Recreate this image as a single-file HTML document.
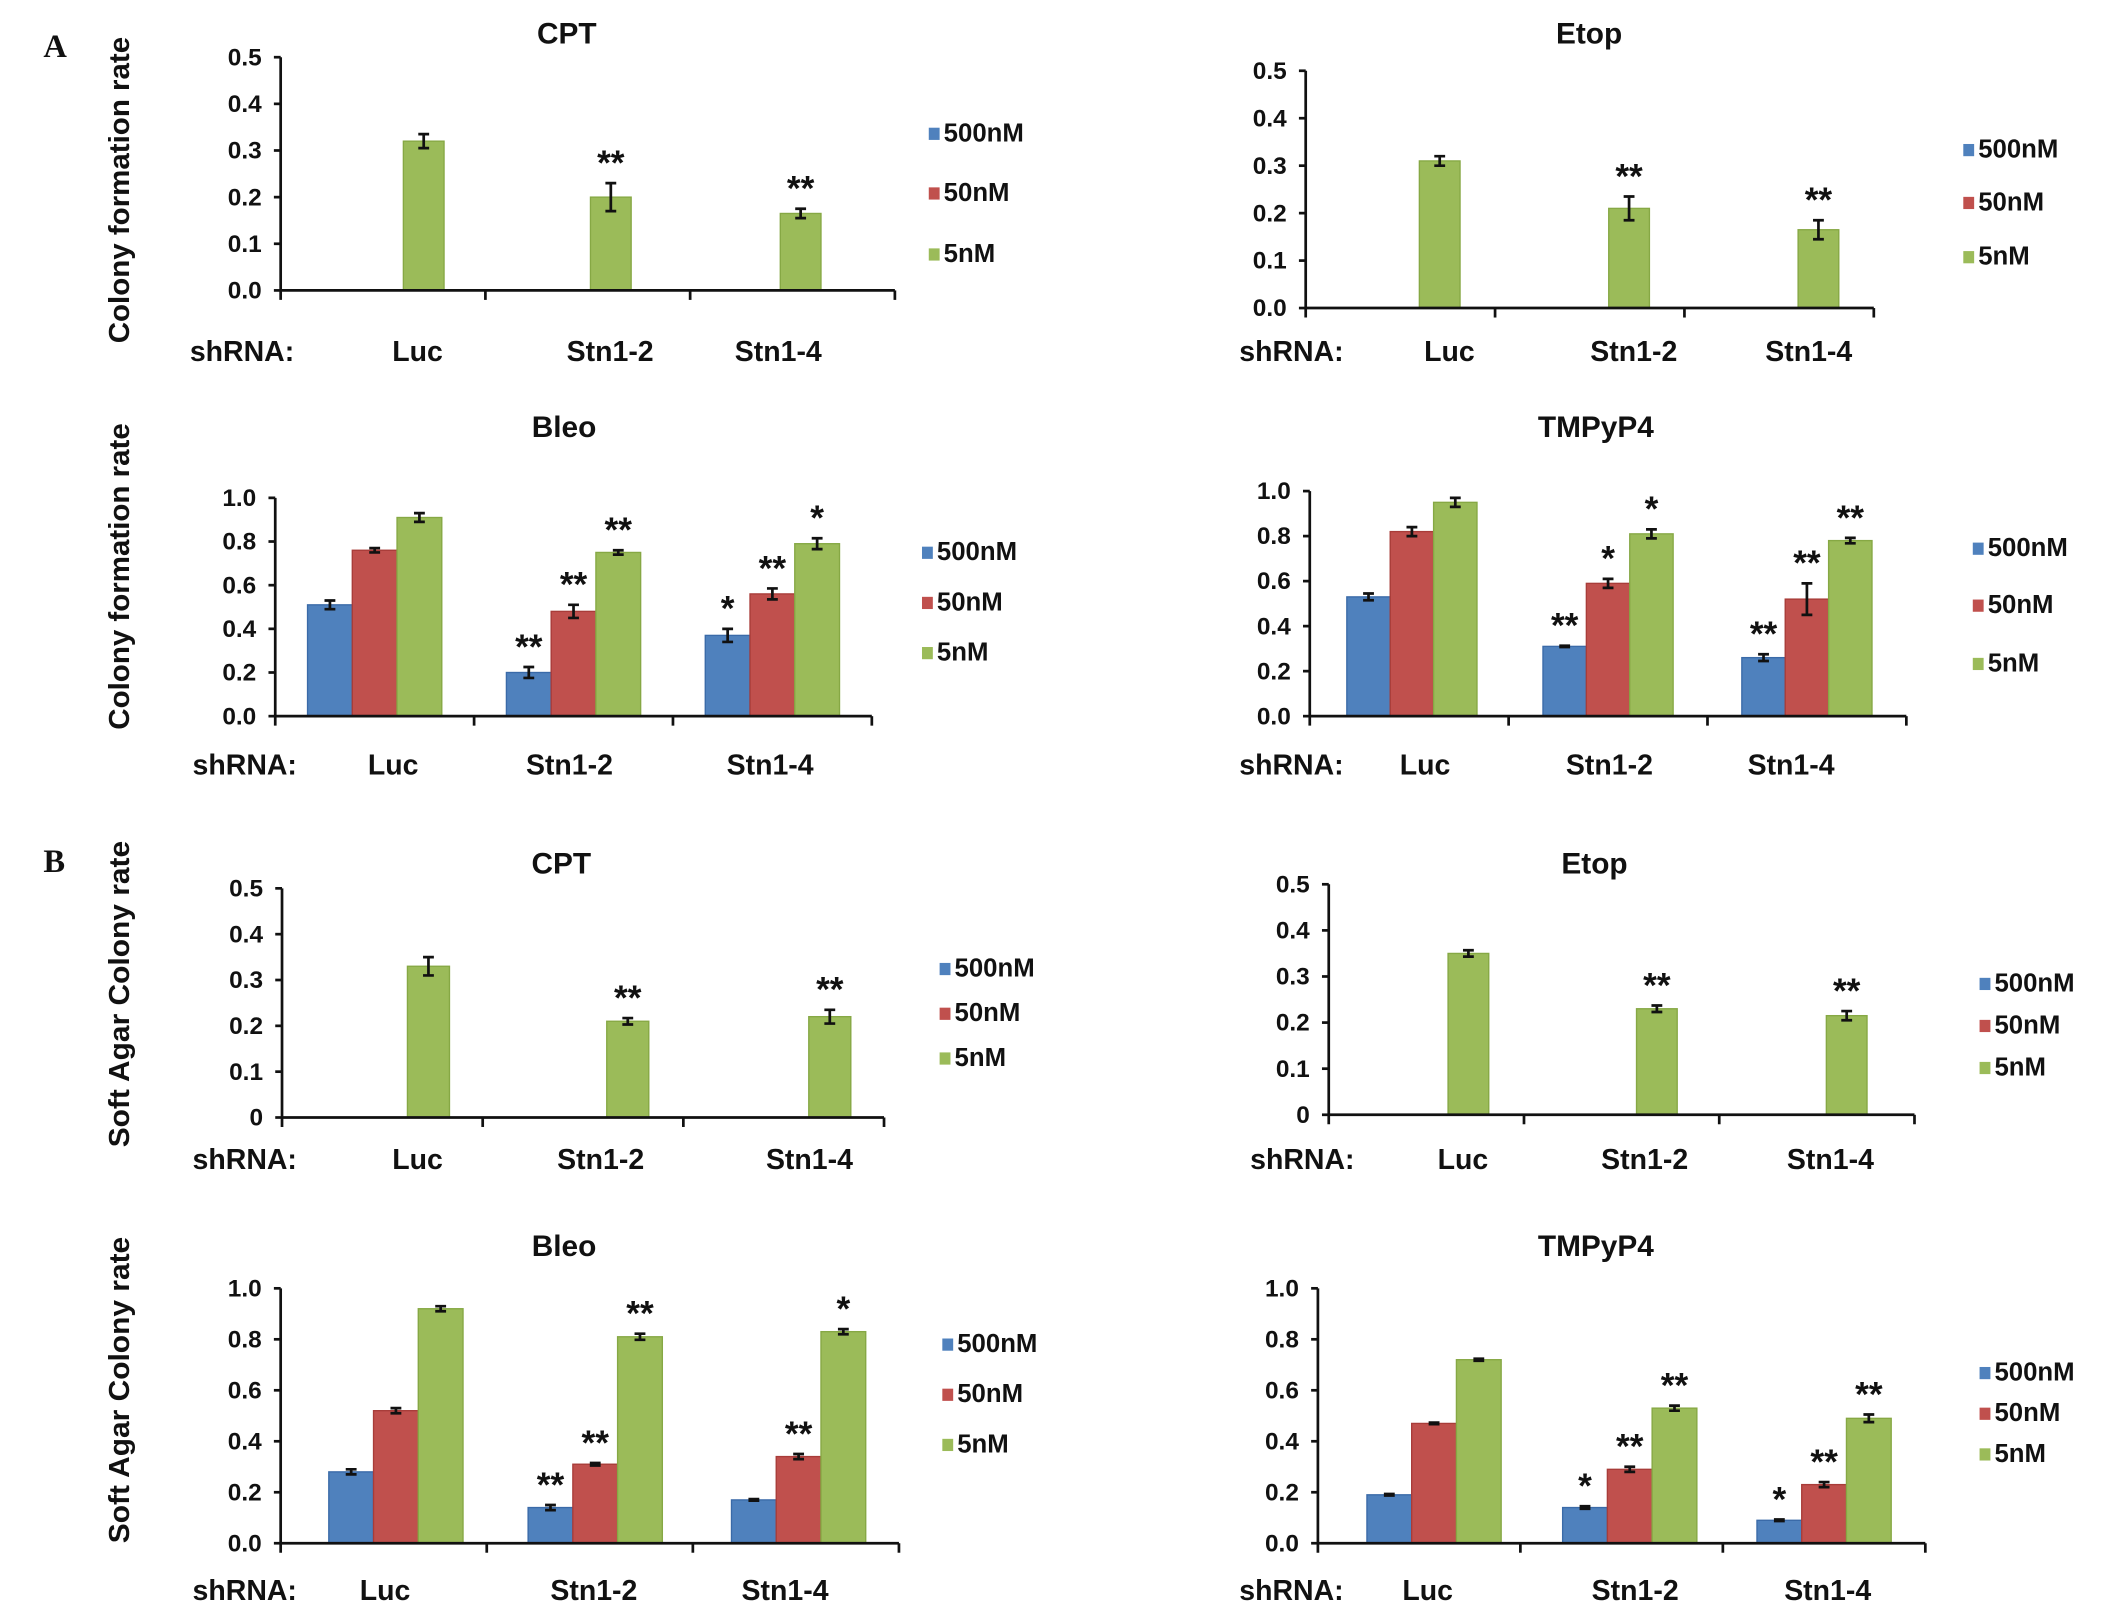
<!DOCTYPE html>
<html><head><meta charset="utf-8">
<style>
html,body{margin:0;padding:0;background:#fff;}
svg{display:block;}
text{font-family:"Liberation Sans",Arial,sans-serif;font-weight:bold;fill:#111;}
.panel-letter{font-family:"Liberation Serif",serif;font-size:24px;}
</style></head>
<body>
<svg id="fig" width="2126" height="1614" viewBox="0 0 1568 1190" xmlns="http://www.w3.org/2000/svg">
<text class="panel-letter" x="32" y="42">A</text>
<text class="panel-letter" x="32" y="643">B</text>
<text transform="translate(95,140) rotate(-90)" text-anchor="middle" font-size="21" textLength="226" lengthAdjust="spacingAndGlyphs">Colony formation rate</text>
<text transform="translate(95,425) rotate(-90)" text-anchor="middle" font-size="21" textLength="226" lengthAdjust="spacingAndGlyphs">Colony formation rate</text>
<text transform="translate(95,733) rotate(-90)" text-anchor="middle" font-size="21" textLength="226" lengthAdjust="spacingAndGlyphs">Soft Agar Colony rate</text>
<text transform="translate(95,1025) rotate(-90)" text-anchor="middle" font-size="21" textLength="226" lengthAdjust="spacingAndGlyphs">Soft Agar Colony rate</text>
</svg>
<script>
// ---- data ----
const categories = ["Luc", "Stn1-2", "Stn1-4"];
const seriesNames = ["500nM", "50nM", "5nM"];
// A CPT
const aCptGreen = [0.32, 0.20, 0.165];
const aCptErr = [0.015, 0.03, 0.01];
const aCptSig = ["", "**", "**"];
// A Etop
const aEtopGreen = [0.31, 0.21, 0.165];
const aEtopErr = [0.01, 0.025, 0.02];
const aEtopSig = ["", "**", "**"];
// A Bleo
const aBleoBlue = [0.51, 0.20, 0.37];
const aBleoRed = [0.76, 0.48, 0.56];
const aBleoGreen = [0.91, 0.75, 0.79];
const aBleoBlueErr = [0.02, 0.025, 0.03];
const aBleoRedErr = [0.01, 0.03, 0.025];
const aBleoGreenErr = [0.02, 0.01, 0.025];
const aBleoBlueSig = ["", "**", "*"];
const aBleoRedSig = ["", "**", "**"];
const aBleoGreenSig = ["", "**", "*"];
// A TMPyP4
const aTmpBlue = [0.53, 0.31, 0.26];
const aTmpRed = [0.82, 0.59, 0.52];
const aTmpGreen = [0.95, 0.81, 0.78];
const aTmpBlueErr = [0.015, 0.003, 0.015];
const aTmpRedErr = [0.02, 0.02, 0.07];
const aTmpGreenErr = [0.02, 0.02, 0.012];
const aTmpBlueSig = ["", "**", "**"];
const aTmpRedSig = ["", "*", "**"];
const aTmpGreenSig = ["", "*", "**"];
// B CPT
const bCptGreen = [0.33, 0.21, 0.22];
const bCptErr = [0.02, 0.007, 0.015];
const bCptSig = ["", "**", "**"];
// B Etop
const bEtopGreen = [0.35, 0.23, 0.215];
const bEtopErr = [0.007, 0.007, 0.01];
const bEtopSig = ["", "**", "**"];
// B Bleo
const bBleoBlue = [0.28, 0.14, 0.17];
const bBleoRed = [0.52, 0.31, 0.34];
const bBleoGreen = [0.92, 0.81, 0.83];
const bBleoBlueErr = [0.01, 0.01, 0.003];
const bBleoRedErr = [0.01, 0.005, 0.01];
const bBleoGreenErr = [0.01, 0.012, 0.01];
const bBleoBlueSig = ["", "**", ""];
const bBleoRedSig = ["", "**", "**"];
const bBleoGreenSig = ["", "**", "*"];
// B TMPyP4
const bTmpBlue = [0.19, 0.14, 0.09];
const bTmpRed = [0.47, 0.29, 0.23];
const bTmpGreen = [0.72, 0.53, 0.49];
const bTmpBlueErr = [0.003, 0.005, 0.003];
const bTmpRedErr = [0.003, 0.01, 0.01];
const bTmpGreenErr = [0.004, 0.01, 0.015];
const bTmpBlueSig = ["", "*", "*"];
const bTmpRedSig = ["", "**", "**"];
const bTmpGreenSig = ["", "**", "**"];
const ticksHalf = ["0.0","0.1","0.2","0.3","0.4","0.5"];
const ticksHalfInt = ["0","0.1","0.2","0.3","0.4","0.5"];
const ticksOne = ["0.0","0.2","0.4","0.6","0.8","1.0"];

const COLORS = ["#4f81bd", "#c0504d", "#9bbb59"];
const EDGES = ["#3a6aa8", "#a83c39", "#86a844"];
const NS = "http://www.w3.org/2000/svg";
const svg = document.getElementById("fig");

function mk(tag, attrs, parent) {
  const e = document.createElementNS(NS, tag);
  for (const k in attrs) e.setAttribute(k, attrs[k]);
  (parent || svg).appendChild(e);
  return e;
}

function panel(cfg) {
  const g = mk("g", {});
  
  
  const yScale = v => cfg.y0 - (v / cfg.ymax) * (cfg.y0 - cfg.y1);
  const groupW = (cfg.x1 - cfg.x0) / 3;
  const xCenter = i => cfg.x0 + groupW * (i + 0.5) + cfg.shift[i];
  const t = mk("text", {x: cfg.titleX, y: cfg.titleY, "text-anchor": "middle", "font-size": 22}, g);
  t.textContent = cfg.title;
  
  
  cfg.series.forEach((s) => {
    const nS = cfg.series.length;
    s.vals.forEach((v, i) => {
      const offset = nS === 1 ? 0 : (s.idx - 1) * cfg.bw;
      const cx = xCenter(i) + offset;
      const yt = yScale(v);
      const r = mk("rect", {x: cx - cfg.bw / 2, y: yt, width: cfg.bw, height: cfg.y0 - yt, fill: COLORS[s.idx], stroke: EDGES[s.idx], "stroke-width": 1}, g);
      
      
      const e = s.err[i];
      const eh = mk("path", {d: `M${cx},${yScale(v + e)}V${yScale(v - e)}M${cx - 4},${yScale(v + e)}H${cx + 4}M${cx - 4},${yScale(v - e)}H${cx + 4}`, stroke: "#111", "stroke-width": 2, fill: "none"}, g);
      
      
      if (s.sig[i]) {
        const st = mk("text", {x: cx, y: yScale(v + e) - 6, "text-anchor": "middle", "font-size": 26}, g);
        st.textContent = s.sig[i];
        
        
      }
    });
  });
  const ax = mk("path", {d: `M${cfg.x0},${cfg.y1}V${cfg.y0 + 7}M${cfg.x0},${cfg.y0}H${cfg.x1}`, stroke: "#111", "stroke-width": 2, fill: "none"}, g);
  
  
  for (let i = 1; i <= 3; i++) {
    const tk = mk("line", {x1: cfg.x0 + groupW * i, x2: cfg.x0 + groupW * i, y1: cfg.y0, y2: cfg.y0 + 7, stroke: "#111", "stroke-width": 2}, g);
    
    
  }
  cfg.ticks.forEach((lab, i) => {
    const v = cfg.ymax * i / (cfg.ticks.length - 1);
    const y = yScale(v);
    const tk = mk("line", {x1: cfg.x0 - 5, x2: cfg.x0, y1: y, y2: y, stroke: "#111", "stroke-width": 2}, g);
    
    
    const tl = mk("text", {x: cfg.x0 - 14, y: y + 6, "text-anchor": "end", "font-size": 18}, g);
    tl.textContent = lab;
    
    
  });
  const sh = mk("text", {x: cfg.shX, y: cfg.labY, "font-size": 21}, g);
  sh.textContent = "shRNA:";
  
  
  categories.forEach((c, i) => {
    const cl = mk("text", {x: cfg.labX[i], y: cfg.labY, "text-anchor": "middle", "font-size": 21}, g);
    cl.textContent = c;
    
    
  });
  seriesNames.forEach((n, i) => {
    const ly = cfg.legY[i];
    const sw = mk("rect", {x: cfg.legX, y: ly - 10, width: 8, height: 9, fill: COLORS[i]}, g);
    
    
    const lt = mk("text", {x: cfg.legX + 11, y: ly, "font-size": 19}, g);
    lt.textContent = n;
    
    
  });
}

panel({name: "chart-a-cpt", title: "CPT", titleX: 418, titleY: 32, x0: 207, x1: 660, y0: 214, y1: 42, ymax: 0.5, bw: 30, shift: [30, 17, 6],
  ticks: ticksHalf, shX: 140, labY: 266, labX: [308, 450, 574], legX: 685, legY: [104, 148, 193],
  series: [{idx: 2, vals: aCptGreen, err: aCptErr, sig: aCptSig}]});
panel({name: "chart-a-etop", title: "Etop", titleX: 1172, titleY: 32, x0: 963, x1: 1382, y0: 227, y1: 52, ymax: 0.5, bw: 30, shift: [29, 29, 29],
  ticks: ticksHalf, shX: 914, labY: 266, labX: [1069, 1205, 1334], legX: 1448, legY: [116, 155, 195],
  series: [{idx: 2, vals: aEtopGreen, err: aEtopErr, sig: aEtopSig}]});
panel({name: "chart-a-bleo", title: "Bleo", titleX: 416, titleY: 322, x0: 203, x1: 643, y0: 528, y1: 367, ymax: 1.0, bw: 33, shift: [0, 0, 0],
  ticks: ticksOne, shX: 142, labY: 571, labX: [290, 420, 568], legX: 680, legY: [413, 450, 487],
  series: [{idx: 0, vals: aBleoBlue, err: aBleoBlueErr, sig: aBleoBlueSig},
           {idx: 1, vals: aBleoRed, err: aBleoRedErr, sig: aBleoRedSig},
           {idx: 2, vals: aBleoGreen, err: aBleoGreenErr, sig: aBleoGreenSig}]});
panel({name: "chart-a-tmpyp4", title: "TMPyP4", titleX: 1177, titleY: 322, x0: 966, x1: 1406, y0: 528, y1: 362, ymax: 1.0, bw: 32, shift: [2, 0, 0],
  ticks: ticksOne, shX: 914, labY: 571, labX: [1051, 1187, 1321], legX: 1455, legY: [410, 452, 495],
  series: [{idx: 0, vals: aTmpBlue, err: aTmpBlueErr, sig: aTmpBlueSig},
           {idx: 1, vals: aTmpRed, err: aTmpRedErr, sig: aTmpRedSig},
           {idx: 2, vals: aTmpGreen, err: aTmpGreenErr, sig: aTmpGreenSig}]});
panel({name: "chart-b-cpt", title: "CPT", titleX: 414, titleY: 644, x0: 208, x1: 652, y0: 824, y1: 655, ymax: 0.5, bw: 31, shift: [34, 33, 34],
  ticks: ticksHalfInt, shX: 142, labY: 862, labX: [308, 443, 597], legX: 693, legY: [720, 753, 786],
  series: [{idx: 2, vals: bCptGreen, err: bCptErr, sig: bCptSig}]});
panel({name: "chart-b-etop", title: "Etop", titleX: 1176, titleY: 644, x0: 980, x1: 1412, y0: 822, y1: 652, ymax: 0.5, bw: 30, shift: [31, 26, 22],
  ticks: ticksHalfInt, shX: 922, labY: 862, labX: [1079, 1213, 1350], legX: 1460, legY: [731, 762, 793],
  series: [{idx: 2, vals: bEtopGreen, err: bEtopErr, sig: bEtopSig}]});
panel({name: "chart-b-bleo", title: "Bleo", titleX: 416, titleY: 926, x0: 207, x1: 663, y0: 1138, y1: 950, ymax: 1.0, bw: 33, shift: [9, 4, 2],
  ticks: ticksOne, shX: 142, labY: 1180, labX: [284, 438, 579], legX: 695, legY: [997, 1034, 1071],
  series: [{idx: 0, vals: bBleoBlue, err: bBleoBlueErr, sig: bBleoBlueSig},
           {idx: 1, vals: bBleoRed, err: bBleoRedErr, sig: bBleoRedSig},
           {idx: 2, vals: bBleoGreen, err: bBleoGreenErr, sig: bBleoGreenSig}]});
panel({name: "chart-b-tmpyp4", title: "TMPyP4", titleX: 1177, titleY: 926, x0: 972, x1: 1420, y0: 1138, y1: 950, ymax: 1.0, bw: 33, shift: [11, 6, 0],
  ticks: ticksOne, shX: 914, labY: 1180, labX: [1053, 1206, 1348], legX: 1460, legY: [1018, 1048, 1078],
  series: [{idx: 0, vals: bTmpBlue, err: bTmpBlueErr, sig: bTmpBlueSig},
           {idx: 1, vals: bTmpRed, err: bTmpRedErr, sig: bTmpRedSig},
           {idx: 2, vals: bTmpGreen, err: bTmpGreenErr, sig: bTmpGreenSig}]});
</script>
</body></html>
